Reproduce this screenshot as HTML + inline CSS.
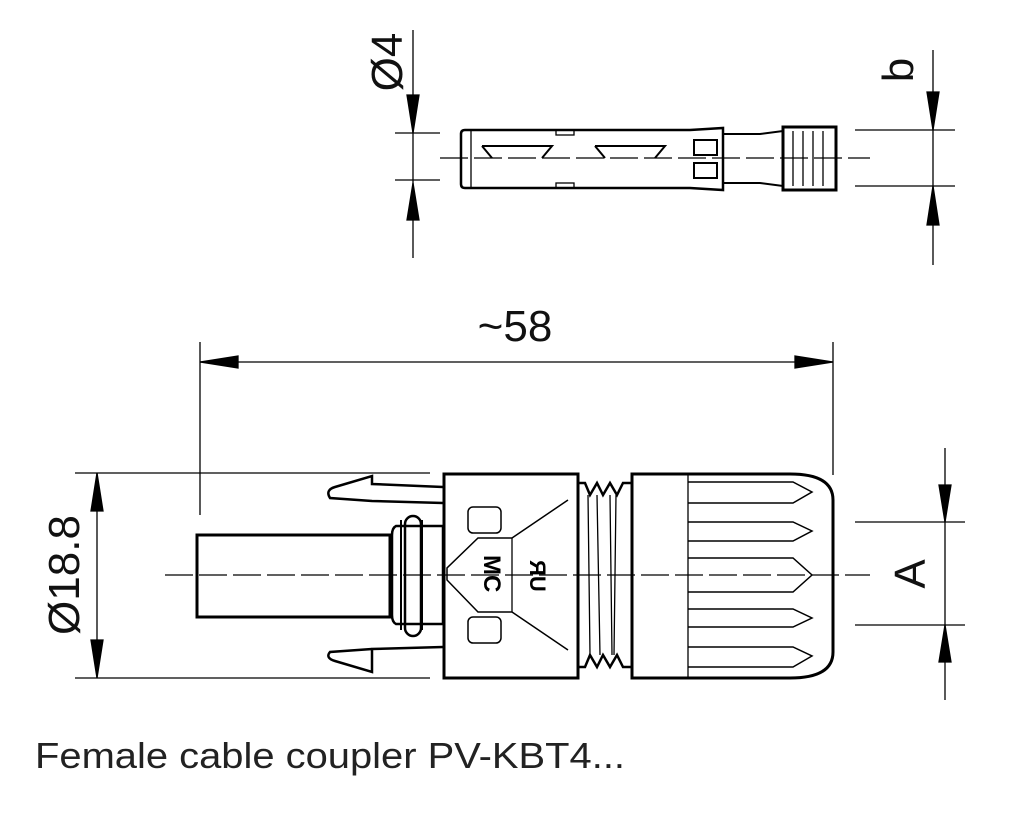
<!DOCTYPE html>
<html><head><meta charset="utf-8"><style>html,body{margin:0;padding:0;background:#fff}svg{display:block}</style></head>
<body>
<svg width="1024" height="814" viewBox="0 0 1024 814" xmlns="http://www.w3.org/2000/svg" font-family="Liberation Sans, sans-serif">
<g stroke="#000" fill="none" stroke-width="1.3">
<!-- top pin dims -->
<line x1="413" y1="30" x2="413" y2="258"/>
<path d="M407,95 L413,133 L419,95 z" fill="#000"/>
<path d="M407,220 L413,183 L419,220 z" fill="#000"/>
<line x1="395" y1="133" x2="440" y2="133"/>
<line x1="395" y1="180" x2="440" y2="180"/>
<line x1="933" y1="50" x2="933" y2="265"/>
<path d="M927,92 L933,130 L939,92 z" fill="#000"/>
<path d="M927,225 L933,186 L939,225 z" fill="#000"/>
<line x1="855" y1="130" x2="955" y2="130"/>
<line x1="855" y1="186" x2="955" y2="186"/>
<!-- pin -->
<line x1="440" y1="158" x2="870" y2="158" stroke-dasharray="28,6"/>
<path d="M465,130 L690,130 L723,128 L723,190 L690,188 L465,188 Q461,188 461,184 L461,134 Q461,130 465,130 z" stroke-width="2.5"/>
<line x1="471" y1="131" x2="471" y2="187"/>
<path d="M482,146 L552,146 L542,158 M482,146 L492,158 M595,146 L665,146 L655,158 M595,146 L605,158" stroke-width="2"/>
<rect x="556" y="130" width="18" height="5"/><rect x="556" y="183" width="18" height="5"/>
<rect x="694" y="140" width="23" height="15" stroke-width="2"/><rect x="694" y="163" width="23" height="15" stroke-width="2"/>
<path d="M723,134 L760,134 L783,131 L783,186 L760,183 L723,183" stroke-width="2"/>
<rect x="783" y="127" width="53" height="63" stroke-width="3"/>
<path d="M793,131 V186 M803,131 V186 M813,131 V186 M823,131 V186"/>
<!-- ~58 dim -->
<line x1="200" y1="342" x2="200" y2="515"/>
<line x1="833" y1="342" x2="833" y2="475"/>
<line x1="200" y1="362" x2="833" y2="362"/>
<path d="M200,362 L238,356 L238,368 z M833,362 L795,356 L795,368 z" fill="#000"/>
<!-- Ø18.8 -->
<line x1="75" y1="473" x2="430" y2="473"/>
<line x1="75" y1="678" x2="430" y2="678"/>
<line x1="97" y1="473" x2="97" y2="678"/>
<path d="M97,473 L91,511 L103,511 z M97,678 L91,640 L103,640 z" fill="#000"/>
<!-- A -->
<line x1="945" y1="448" x2="945" y2="700"/>
<path d="M939,485 L945,522 L951,485 z M939,662 L945,625 L951,662 z" fill="#000"/>
<line x1="855" y1="522" x2="965" y2="522"/>
<line x1="855" y1="625" x2="965" y2="625"/>
<!-- connector -->
<rect x="197" y="535" width="193" height="82" stroke-width="3" fill="#fff"/>
<path d="M396,526 Q392,528 392,535 L392,615 Q392,622 396,624 L443,624 L443,526 z" stroke-width="2.5" fill="#fff"/>
<path d="M401,520 L401,630 M422,520 L422,630" stroke-width="2"/>
<rect x="405" y="516" width="16" height="120" rx="8" stroke-width="2.5"/>
<path d="M443,487 L372,484 L372,476 L335,487 Q325,490 330,498 L372,501 L443,503" stroke-width="2.5" fill="#fff"/>
<path d="M443,647 L372,649 L372,672 L335,661 Q325,658 330,652 L372,649" stroke-width="2.5" fill="#fff"/>
<rect x="444" y="474" width="134" height="204" stroke-width="3" fill="#fff"/>
<path d="M568,500 L512,538 L478,538 L447,568 L447,580 L478,612 L512,612 L568,650" stroke-width="1.5"/>
<line x1="512" y1="538" x2="512" y2="612"/>
<rect x="468" y="507" width="33" height="26" rx="5" stroke-width="1.5"/>
<rect x="468" y="617" width="33" height="26" rx="5" stroke-width="1.5"/>
<path d="M578,483 L585,483 L590,495 L597,483 L603,495 L610,483 L617,495 L623,483 L632,483 M578,667 L585,667 L590,655 L597,667 L603,655 L610,667 L617,655 L623,667 L632,667" stroke-width="2.5"/>
<path d="M588,495 L590,655 M597,495 L600,655 M610,495 L612,655 M616,495 L614,655" stroke-width="1.3"/>
<path d="M632,474 L790,474 Q833,474 833,500 L833,652 Q833,678 790,678 L632,678 z" stroke-width="3" fill="#fff"/>
<line x1="688" y1="475" x2="688" y2="677"/>
<g stroke-width="1.5">
<path d="M688,482 L793,482 L812,492 L793,503 L688,503"/>
<path d="M688,522 L793,522 L812,531 L793,541 L688,541"/>
<path d="M688,558 L793,558 L812,575 L793,592 L688,592"/>
<path d="M688,609 L793,609 L812,618 L793,627 L688,627"/>
<path d="M688,647 L793,647 L812,656 L793,667 L688,667"/>
</g>
<line x1="165" y1="575" x2="870" y2="575" stroke-dasharray="28,6"/>
</g>
<g font-weight="bold" fill="#000">
<text transform="translate(484,555) rotate(90)" font-size="24">MC</text>
<text transform="translate(530,560) rotate(90)" font-size="22">ЯU</text>
</g>
<g fill="#111" font-size="44">
<text x="515" y="341" text-anchor="middle">~58</text>
<text transform="translate(402,62) rotate(-90)" text-anchor="middle">Ø4</text>
<text transform="translate(913,70) rotate(-90)" text-anchor="middle">b</text>
<text transform="translate(79,575) rotate(-90)" text-anchor="middle">Ø18.8</text>
<text transform="translate(925,574) rotate(-90)" text-anchor="middle">A</text>
</g>
<text x="35" y="768" font-size="36" fill="#222" textLength="590" lengthAdjust="spacingAndGlyphs">Female cable coupler PV-KBT4...</text>
</svg>
</body></html>
